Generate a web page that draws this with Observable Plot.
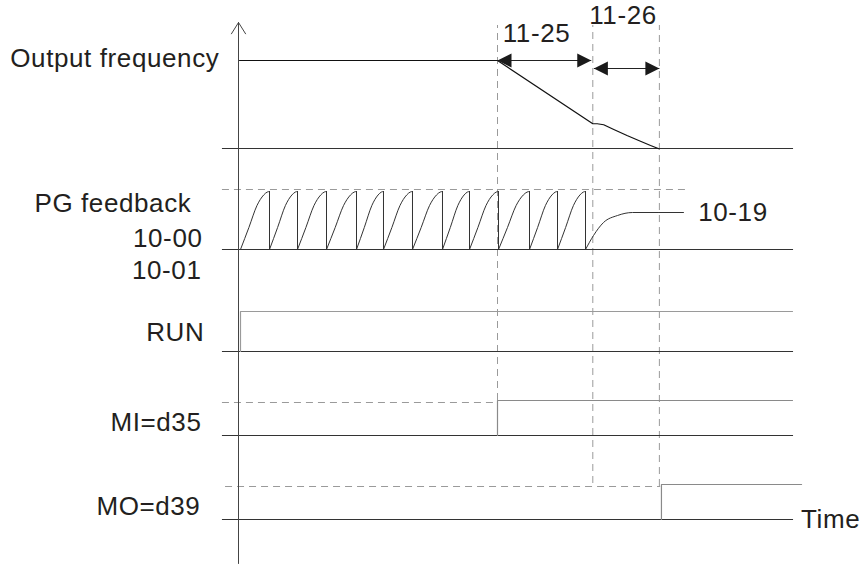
<!DOCTYPE html>
<html>
<head>
<meta charset="utf-8">
<script src="https://cdn.jsdelivr.net/npm/d3@7"></script>
<script src="https://cdn.jsdelivr.net/npm/@observablehq/plot@0.6"></script>
<style>
  html, body { margin: 0; padding: 0; background: #fff; }
  #chart svg text { letter-spacing: 0.6px; }
</style>
</head>
<body>
<div id="chart"></div>
<script>
// ---- Data (time units: deceleration start = 10; level units per signal row) ----
const rowNames = ["Output frequency", "PG feedback", "RUN", "MI=d35", "MO=d39"];
const rowBase  = [16.72, 12.68, 8.6, 5.24, 1.88];   // low level of each row
const rowHigh  = [20.24, 15.0, 10.2, 6.64, 3.28];   // high level of each row
const baseStart = -0.62, baseEnd = 21.43;

// Output frequency: constant, linear decel (11-25), then S-shaped stop (11-26)
const freqT = [0.04, 10.0, 13.68, 13.85, 14.1, 14.49, 15.0, 15.52, 15.91, 16.23];
const freqV = [20.24, 20.24, 17.71, 17.71, 17.67, 17.48, 17.24, 17.01, 16.84, 16.71];

// Event markers (dashed vertical lines)
const markerT      = [10.0, 13.68, 16.25];
const markerTop    = 21.64;
const markerBottom = [6.64, 3.32, 3.2];

// Dimension arrows
const arrowLabels = ["11-25", "11-26"];
const arrowT1 = [10.0, 13.72];
const arrowT2 = [13.62, 16.25];
const arrowV  = [20.24, 19.92];
const arrowLabelT = [11.506, 14.846];
const arrowLabelV = [21.31, 22.03];

// PG feedback pulses
const teethEdges = [0.077, 1.197, 2.278, 3.398, 4.556, 5.598, 6.718, 7.876, 8.919, 10.039, 11.236, 12.317, 13.398];
const toothFx = [0, 0.29, 0.57, 0.8, 0.92, 1];
const toothFy = [0, 0.38, 0.76, 0.94, 0.99, 1];
const pgDashV = 15.08, pgDashEnd = 17.41;
const recoverT = [13.398, 13.707, 14.093, 14.633, 15.212, 17.181];
const recoverV = [12.68, 13.24, 13.76, 14.04, 14.16, 14.16];

// Digital signals RUN, MI=d35, MO=d39
const stepRows  = [2, 3, 4];
const stepRise  = [0.077, 10.0, 16.33];
const stepEnd   = [21.39, 21.39, 21.74];
const stepColor = ["#9a9a9a", "#8a8a8a", "#8a8a8a"];
const dashRows  = [3, 4];
const dashStart = [-0.62, -0.5];
const dashEnd   = [10.0, 16.3];
const dashV     = [6.56, 3.2];

// Labels
const leftLabels = ["Output frequency", "PG feedback", "10-00", "10-01", "RUN", "MI=d35", "MO=d39"];
const leftLabelT = [-0.74, -1.82, -1.39, -1.43, -1.32, -1.43, -1.47];
const leftLabelV = [20.33, 14.51, 13.11, 11.85, 9.34, 5.77, 2.41];
const sideLabels = ["10-19", "Time"];
const sideLabelT = [17.75, 21.72];
const sideLabelV = [14.16, 1.87];

// Axis
const axisBottom = 0.12, axisTop = 21.76;

// ---- Build tables ----
const freqPts = freqT.map((t, i) => ({t, v: freqV[i]}));
const teeth = [];
for (let i = 0; i < teethEdges.length - 1; i++) {
  const a = teethEdges[i], b = teethEdges[i + 1];
  toothFx.forEach((fx, j) => teeth.push({
    z: i, t: a + fx * (b - a),
    v: rowBase[1] + toothFy[j] * (rowHigh[1] - rowBase[1])
  }));
}
const recoverPts = recoverT.map((t, i) => ({t, v: recoverV[i]}));
const steps = [];
stepRows.forEach((r, k) => {
  steps.push({z: k, t: stepRise[k], v: rowBase[r], c: stepColor[k]});
  steps.push({z: k, t: stepRise[k], v: rowHigh[r], c: stepColor[k]});
  steps.push({z: k, t: stepEnd[k], v: rowHigh[r], c: stepColor[k]});
});
const markers = markerT.map((t, i) => ({t, y1: markerBottom[i], y2: markerTop}));
const hDashes = [{x1: baseStart, x2: pgDashEnd, v: pgDashV}]
  .concat(dashV.map((v, i) => ({x1: dashStart[i], x2: dashEnd[i], v})));
const arrows = arrowT1.map((t1, i) => ({t1, t2: arrowT2[i], v: arrowV[i]}));

const headR = {draw(ctx) { ctx.moveTo(0, 0); ctx.lineTo(-14, -7); ctx.lineTo(-14, 7); ctx.closePath(); }};
const headL = {draw(ctx) { ctx.moveTo(0, 0); ctx.lineTo(14, -7); ctx.lineTo(14, 7); ctx.closePath(); }};

const ink = "#231f20";
const dash = "#9a9a9a";

const chart = Plot.plot({
  width: 861,
  height: 566,
  margin: 0,
  x: {domain: [-238 / 25.9, 623 / 25.9], axis: null},
  y: {domain: [0, 22.64], axis: null},
  style: {fontFamily: "'Liberation Sans', Arial, Helvetica, sans-serif", background: "#fff", color: ink},
  marks: [
    // dashed guides
    Plot.ruleX(markers, {x: "t", y1: "y1", y2: "y2", stroke: dash, strokeWidth: 1, strokeDasharray: "7,5"}),
    Plot.ruleY(hDashes, {y: "v", x1: "x1", x2: "x2", stroke: dash, strokeWidth: 1, strokeDasharray: "7,5"}),
    // baselines
    Plot.ruleY(rowBase, {y: d => d, x1: baseStart, x2: baseEnd, stroke: "#333", strokeWidth: 1.1}),
    // vertical axis with arrow
    Plot.arrow([0], {x1: 0, x2: 0, y1: axisBottom, y2: axisTop, stroke: "#444", strokeWidth: 1, headLength: 20, headAngle: 64}),
    // output frequency
    Plot.line(freqPts, {x: "t", y: "v", stroke: "#111", strokeWidth: 1.2}),
    // dimension arrows
    Plot.link(arrows, {x1: "t1", x2: "t2", y1: "v", y2: "v", stroke: "#222", strokeWidth: 1.2}),
    Plot.dot(arrows, {x: "t2", y: "v", symbol: headR, fill: "#1a1a1a", stroke: "none"}),
    Plot.dot(arrows, {x: "t1", y: "v", symbol: headL, fill: "#1a1a1a", stroke: "none"}),
    // PG feedback
    Plot.line(teeth, {x: "t", y: "v", z: "z", curve: "monotone-x", stroke: "#333", strokeWidth: 1}),
    Plot.ruleX(teethEdges.slice(1), {x: d => d, y1: rowBase[1], y2: rowHigh[1], stroke: "#333", strokeWidth: 1}),
    Plot.line(recoverPts, {x: "t", y: "v", curve: "monotone-x", stroke: "#333", strokeWidth: 1}),
    // digital signals
    Plot.line(steps, {x: "t", y: "v", z: "z", stroke: "c", strokeWidth: 1.2}),
    // labels
    Plot.text(leftLabels, {x: (d, i) => leftLabelT[i], y: (d, i) => leftLabelV[i], text: d => d, textAnchor: "end", fontSize: 26, fill: ink}),
    Plot.text(sideLabels, {x: (d, i) => sideLabelT[i], y: (d, i) => sideLabelV[i], text: d => d, textAnchor: "start", fontSize: 26, fill: ink}),
    Plot.text(arrowLabels, {x: (d, i) => arrowLabelT[i], y: (d, i) => arrowLabelV[i], text: d => d, textAnchor: "middle", fontSize: 26, fill: ink})
  ]
});
document.getElementById("chart").appendChild(chart);
</script>
</body>
</html>
